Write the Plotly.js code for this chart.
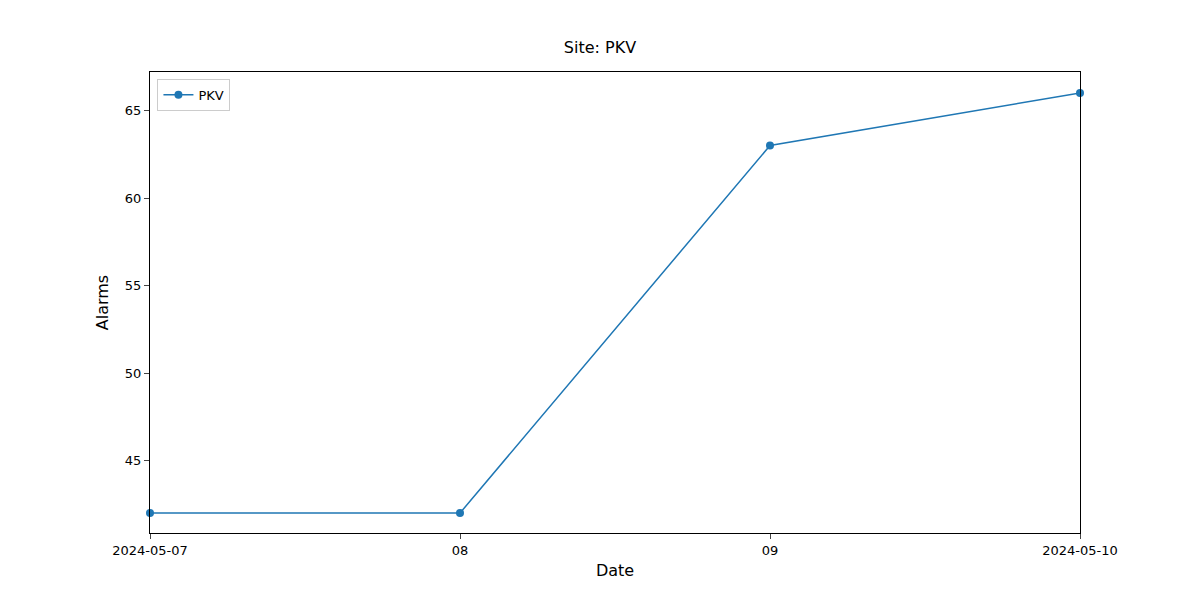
<!DOCTYPE html>
<html>
<head>
<meta charset="utf-8">
<script src="https://cdn.plot.ly/plotly-3.0.1.min.js"></script>
<style>body{margin:0}#plot{width:1200px;height:600px}</style>
</head>
<body>
<div id="plot"></div>
<script>
const dates = ['2024-05-07', '2024-05-08', '2024-05-09', '2024-05-10']
const alarms = [42, 42, 63, 66]
const tickLabels = ['2024-05-07', '08', '09', '2024-05-10']
const yTicks = [45, 50, 55, 60, 65]

const data = [{
  x: dates,
  y: alarms,
  name: 'PKV',
  mode: 'lines+markers',
  line: { color: '#1f77b4', width: 1.5 },
  marker: { color: '#1f77b4', size: 8 },
  cliponaxis: false
}]

const layout = {
  width: 1200, height: 600,
  margin: { l: 150, r: 120, t: 72, b: 67 },
  paper_bgcolor: 'white', plot_bgcolor: 'white',
  font: { family: 'DejaVu Sans', size: 13, color: '#000' },
  title: { text: 'Site: PKV', x: 0.5, y: 0.93, xanchor: 'center', font: { size: 16 } },
  showlegend: true,
  legend: { x: 0.008, y: 0.985, xanchor: 'left', yanchor: 'top', bordercolor: '#ccc', borderwidth: 1, font: { size: 13 } },
  xaxis: {
    type: 'date', range: ['2024-05-07', '2024-05-10'],
    tickvals: dates, ticktext: tickLabels,
    showgrid: false, zeroline: false, showline: true, mirror: true, linecolor: '#000',
    ticks: 'outside', ticklen: 5,
    title: { text: 'Date', standoff: 8 }
  },
  yaxis: {
    range: [40.86, 67.2], tickvals: yTicks,
    showgrid: false, zeroline: false, showline: true, mirror: true, linecolor: '#000',
    ticks: 'outside', ticklen: 5,
    title: { text: 'Alarms', standoff: 12 }
  }
}

Plotly.newPlot('plot', data, layout, { displayModeBar: false })
</script>
</body>
</html>
